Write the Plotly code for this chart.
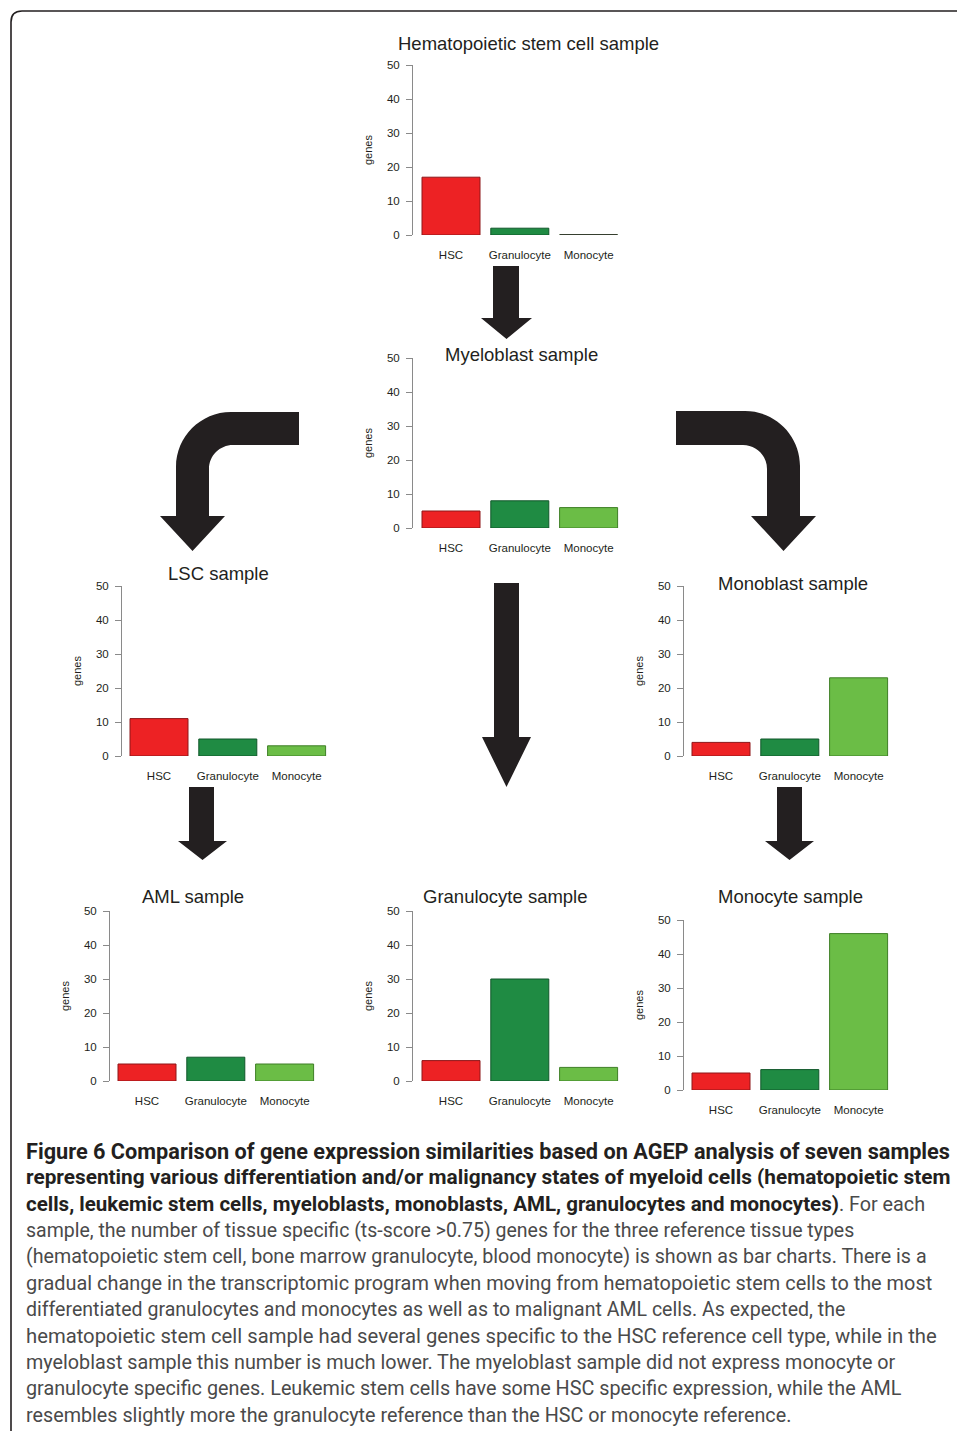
import plotly.graph_objects as go

W, H = 957, 1431

# ---------------- data ----------------
categories = ["HSC", "Granulocyte", "Monocyte"]
titles = ["Hematopoietic stem cell sample", "Myeloblast sample", "LSC sample",
          "Monoblast sample", "AML sample", "Granulocyte sample", "Monocyte sample"]
hsc_sample = [17, 2, 0]
myeloblast_sample = [5, 8, 6]
lsc_sample = [11, 5, 3]
monoblast_sample = [4, 5, 23]
aml_sample = [5, 7, 5]
granulocyte_sample = [6, 30, 4]
monocyte_sample = [5, 6, 46]
y_ticks = [0, 10, 20, 30, 40, 50]
y_label = "genes"

caption_bold = [
    "Figure 6 Comparison of gene expression similarities based on AGEP analysis of seven samples",
    "representing various differentiation and/or malignancy states of myeloid cells (hematopoietic stem",
    "cells, leukemic stem cells, myeloblasts, monoblasts, AML, granulocytes and monocytes)",
]
caption_regular = [
    ". For each",
    "sample, the number of tissue specific (ts-score >0.75) genes for the three reference tissue types",
    "(hematopoietic stem cell, bone marrow granulocyte, blood monocyte) is shown as bar charts. There is a",
    "gradual change in the transcriptomic program when moving from hematopoietic stem cells to the most",
    "differentiated granulocytes and monocytes as well as to malignant AML cells. As expected, the",
    "hematopoietic stem cell sample had several genes specific to the HSC reference cell type, while in the",
    "myeloblast sample this number is much lower. The myeloblast sample did not express monocyte or",
    "granulocyte specific genes. Leukemic stem cells have some HSC specific expression, while the AML",
    "resembles slightly more the granulocyte reference than the HSC or monocyte reference.",
]

series = [hsc_sample, myeloblast_sample, lsc_sample, monoblast_sample,
          aml_sample, granulocyte_sample, monocyte_sample]

# ---------------- styling / layout (pixels) ----------------
bar_colors = ["#ed2224", "#1f8b43", "#6bbd46"]
bar_edges = ["#8e1619", "#11572a", "#3e7f26"]
INK = "#231f20"
CAP_GREY = "#4a4a4a"
AXIS_GREY = "#8a8a8a"
CHART_FONT = "Liberation Sans, Arial, sans-serif"
CAP_FONT = "Roboto, sans-serif"
# per caption line font sizes (to fit the original line widths)
line_sizes = [21.7, 20.8, 20.5, 19.5, 19.65, 19.9, 19.55, 20.25, 19.75, 19.8, 19.75]

# axis_x, first bar centre, y of 0, y of 50, title x, title y
panel_pos = [
    (413, 451, 235, 65, 528, 43),
    (413, 451, 528, 358, 521, 354),
    (122, 159, 756, 586, 218, 573),
    (684, 721, 756, 586, 793, 583),
    (110, 147, 1081, 911, 193, 896),
    (413, 451, 1081, 911, 505, 896),
    (684, 721, 1090, 920, 790, 896),
]
STEP = 68.8
BAR_W = 0.843

fig = go.Figure()
layout = dict(
    width=W, height=H, autosize=False,
    margin=dict(l=0, r=0, t=0, b=0, pad=0, autoexpand=False),
    paper_bgcolor="white", plot_bgcolor="rgba(0,0,0,0)",
    showlegend=False,
)
annotations = []
shapes = []

for i, (title, vals, pos) in enumerate(zip(titles, series, panel_pos), start=1):
    ax, c0, y0, y50, tx, ty = pos
    x_lo = -(c0 - ax) / STEP
    x_hi = 2.5
    xs = list(range(len(categories)))
    fig.add_trace(go.Bar(
        x=xs, y=vals, width=BAR_W,
        marker=dict(color=bar_colors, line=dict(color=bar_edges, width=1)),
        xaxis=f"x{i}", yaxis=f"y{i}", hoverinfo="skip",
    ))
    for j, v in enumerate(vals):
        if v == 0:
            fig.add_trace(go.Scatter(
                x=[j - BAR_W / 2, j + BAR_W / 2], y=[v, v], mode="lines",
                line=dict(color=INK, width=1.5),
                xaxis=f"x{i}", yaxis=f"y{i}", hoverinfo="skip",
            ))
    layout[f"xaxis{i}"] = dict(
        domain=[ax / W, (ax + (x_hi - x_lo) * STEP) / W], range=[x_lo, x_hi],
        anchor=f"y{i}", showline=False, showgrid=False, zeroline=False,
        tickvals=xs, ticktext=categories, ticks="", ticklabelstandoff=11,
        automargin=False,
        tickfont=dict(family=CHART_FONT, size=11.5, color=INK), fixedrange=True,
    )
    layout[f"yaxis{i}"] = dict(
        domain=[1 - y0 / H, 1 - y50 / H], range=[0, 50], anchor=f"x{i}",
        showline=True, linecolor=AXIS_GREY, linewidth=1,
        ticks="outside", ticklen=6, tickcolor=AXIS_GREY, tickwidth=1,
        tickvals=y_ticks, showgrid=False, zeroline=False, ticklabelstandoff=4,
        automargin=False,
        tickfont=dict(family=CHART_FONT, size=11.5, color=INK), fixedrange=True,
    )
    annotations.append(dict(
        text=title, x=tx, y=ty, xref="x8", yref="y8", showarrow=False,
        xanchor="center", yanchor="middle",
        font=dict(family=CHART_FONT, size=18.5, color=INK),
    ))
    annotations.append(dict(
        text=y_label, x=ax - 45, y=(y0 + y50) / 2, xref="x8", yref="y8",
        showarrow=False, textangle=-90, xanchor="center", yanchor="middle",
        font=dict(family=CHART_FONT, size=11, color=INK),
    ))

# overlay pixel-coordinate axes for decorations
fig.add_trace(go.Scatter(x=[None], y=[None], xaxis="x8", yaxis="y8", hoverinfo="skip"))
layout["xaxis8"] = dict(domain=[0, 1], range=[0, W], visible=False, anchor="y8",
                        fixedrange=True, automargin=False)
layout["yaxis8"] = dict(domain=[0, 1], range=[H, 0], visible=False, anchor="x8",
                        fixedrange=True, automargin=False)


def straight_arrow(xl, xr, ytop, yhead, hl, hr, tip):
    xc = (hl + hr) / 2
    return (f"M {xl},{ytop} L {xr},{ytop} L {xr},{yhead} L {hr},{yhead} "
            f"L {xc},{tip} L {hl},{yhead} L {xl},{yhead} Z")


K = 0.5523
arrow_paths = [
    straight_arrow(493, 519, 266, 318, 481, 532, 339),
    straight_arrow(494, 519, 583, 737, 482, 531, 787),
    straight_arrow(189, 214, 787, 841, 178, 227, 860),
    straight_arrow(777, 802, 787, 841, 765, 814, 860),
]
Ro, Ri = 55, 24
arrow_paths.append(
    f"M 299,412 L {176+Ro},412 C {176+Ro-Ro*K},412 176,{412+Ro-Ro*K} 176,{412+Ro} "
    f"L 176,516 L 160,516 L 192.5,551 L 225,516 L 209,516 L 209,{445+Ri} "
    f"C 209,{445+Ri-Ri*K} {209+Ri-Ri*K},445 {209+Ri},445 L 299,445 Z"
)
arrow_paths.append(
    f"M 676,411 L {800-Ro},411 C {800-Ro+Ro*K},411 800,{411+Ro-Ro*K} 800,{411+Ro} "
    f"L 800,516 L 816,516 L 783.5,551 L 751,516 L 767,516 L 767,{445+Ri} "
    f"C 767,{445+Ri-Ri*K} {767-Ri+Ri*K},445 {767-Ri},445 L 676,445 Z"
)
for p in arrow_paths:
    shapes.append(dict(type="path", path=p, xref="x8", yref="y8",
                       fillcolor=INK, line=dict(width=0), layer="above"))

shapes.append(dict(type="path", xref="x8", yref="y8", layer="above",
                   path="M 11,1440 L 11,22 C 11,15 15,11 22,11 L 970,11",
                   line=dict(color=INK, width=1.6)))

# caption
def bold(t, s):
    return f'<b><span style="font-size:{s}px;color:{INK}">{t}</span></b>'


def reg(t, s):
    return f'<span style="font-size:{s}px;color:{CAP_GREY}">{t}</span>'


caption_lines = [
    bold(caption_bold[0], line_sizes[0]),
    bold(caption_bold[1], line_sizes[1]),
    bold(caption_bold[2], line_sizes[2]) + reg(caption_regular[0], 19.8),
] + [reg(t, s) for t, s in zip(caption_regular[1:], line_sizes[3:])]

cap_y0, cap_dy = 1151, 26.4
for k, line in enumerate(caption_lines):
    annotations.append(dict(
        text=line, x=24, y=cap_y0 + k * cap_dy, xref="x8", yref="y8",
        showarrow=False, xanchor="left", yanchor="middle",
        font=dict(family=CAP_FONT, size=19.8, color=CAP_GREY),
    ))

layout["annotations"] = annotations
layout["shapes"] = shapes
fig.update_layout(**layout)

post = ("document.documentElement.style.margin='0';document.body.style.margin='0';"
        "document.body.style.padding='0';document.body.style.overflow='hidden';"
        "document.documentElement.style.overflow='hidden';"
        "var g=document.getElementById('{plot_id}');g.style.position='absolute';"
        "g.style.left='0px';g.style.top='0px';")
fig.write_html("out.html", post_script=post, config={"displayModeBar": False})
